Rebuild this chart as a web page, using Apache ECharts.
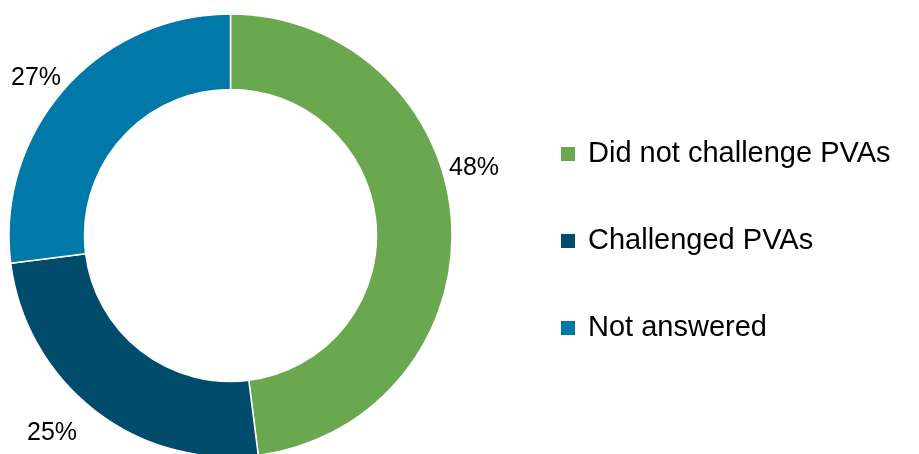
<!DOCTYPE html>
<html>
<head>
<meta charset="utf-8">
<script src="https://cdn.jsdelivr.net/npm/echarts@6/dist/echarts.min.js"></script>
<style>
  html, body { margin: 0; padding: 0; background: #ffffff; }
  #chart { width: 919px; height: 454px; }
</style>
</head>
<body>
<div id="chart"></div>
<script>
// Survey responses on challenging PVAs (share of respondents, %)
const categories = ['Did not challenge PVAs', 'Challenged PVAs', 'Not answered'];
const shares = [48, 25, 27];
const colors = ['#6aa84f', '#024c6b', '#0079a9'];

// Where each percentage label sits (centre point, px)
const labelSpots = [[474, 168], [52, 433], [36, 78]];

const chart = echarts.init(document.getElementById('chart'), null, { renderer: 'canvas' });

chart.setOption({
  animation: false,
  backgroundColor: '#ffffff',
  color: colors,
  legend: {
    orient: 'vertical',
    left: 559,
    top: 139,
    padding: 0,
    icon: 'rect',
    itemWidth: 16,
    itemHeight: 16,
    itemGap: 57,
    selectedMode: false,
    data: categories,
    textStyle: {
      fontFamily: 'Liberation Sans, Arial, sans-serif',
      fontSize: 29,
      lineHeight: 30,
      color: '#000000',
      padding: [0, 0, 0, 7]
    }
  },
  series: [{
    type: 'pie',
    center: [230.5, 235.5],
    radius: [146, 221.5],
    startAngle: 90,
    clockwise: true,
    avoidLabelOverlap: false,
    silent: true,
    itemStyle: { borderColor: '#ffffff', borderWidth: 1.5 },
    label: {
      show: true,
      position: 'outside',
      formatter: p => p.value + '%',
      fontFamily: 'Liberation Sans, Arial, sans-serif',
      fontSize: 25,
      color: '#000000'
    },
    labelLine: { show: false },
    labelLayout: p => ({
      x: labelSpots[p.dataIndex][0],
      y: labelSpots[p.dataIndex][1],
      align: 'center',
      verticalAlign: 'middle'
    }),
    emphasis: { disabled: true },
    data: categories.map((name, i) => ({ name: name, value: shares[i] }))
  }]
});
</script>
</body>
</html>
